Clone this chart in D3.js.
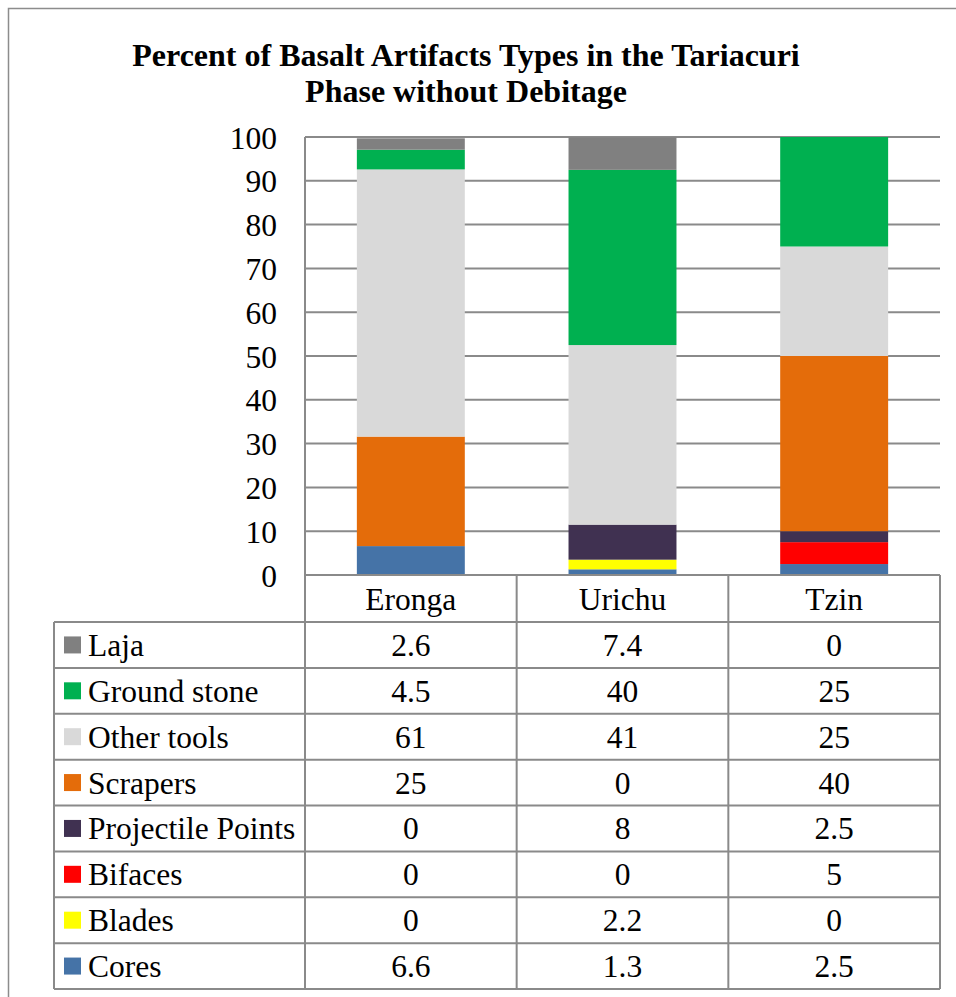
<!DOCTYPE html>
<html>
<head>
<meta charset="utf-8">
<script src="https://cdn.jsdelivr.net/npm/d3@7/dist/d3.min.js"></script>
<style>
  html, body { margin: 0; padding: 0; background: #fff; }
  svg { display: block; }
  text { font-family: "Liberation Serif", "Times New Roman", serif; fill: #000; }
</style>
</head>
<body>
<svg id="chart" width="956" height="997"></svg>
<script>
// Sites shown as columns
const sites = ["Eronga", "Urichu", "Tzin"];

// Artifact types, from the bottom of each stack to the top
const types = ["Cores", "Blades", "Bifaces", "Projectile Points", "Scrapers", "Other tools", "Ground stone", "Laja"];
const colors = ["#4573A7", "#FFFF00", "#FF0000", "#403151", "#E46C0A", "#D9D9D9", "#00B050", "#808080"];

// Percent values per type, in site order (Eronga, Urichu, Tzin)
const cores       = [6.6, 1.3, 2.5];
const blades      = [0, 2.2, 0];
const bifaces     = [0, 0, 5];
const projectiles = [0, 8, 2.5];
const scrapers    = [25, 0, 40];
const otherTools  = [61, 41, 25];
const groundStone = [4.5, 40, 25];
const laja        = [2.6, 7.4, 0];

const yTicks = [0, 10, 20, 30, 40, 50, 60, 70, 80, 90, 100];
const title = ["Percent of Basalt Artifacts Types in the Tariacuri", "Phase without Debitage"];

const seriesValues = [cores, blades, bifaces, projectiles, scrapers, otherTools, groundStone, laja];
const rows = sites.map((s, i) => {
  const r = { site: s };
  types.forEach((t, k) => { r[t] = seriesValues[k][i]; });
  return r;
});

const svg = d3.select("#chart");
const fontSize = 31.5;
const lineColor = "#8a8a8a";

// Layout
const plotLeft = 305, plotRight = 940, plotTop = 137, plotBottom = 575;
const legendLeft = 54;
const headerBottom = 622;
const rowH = 45.875;

const x = d3.scaleBand().domain(sites).range([plotLeft, plotRight]).padding(0);
const y = d3.scaleLinear().domain([0, 100]).range([plotBottom, plotTop]);
const barW = x.bandwidth() * 0.51;

// Frame
svg.append("path")
  .attr("d", `M8.5,997 L8.5,8.5 L956,8.5`)
  .attr("fill", "none").attr("stroke", "#8c8c8c").attr("stroke-width", 1.5);

// Title
svg.append("g").selectAll("text").data(title).join("text")
  .attr("x", 466).attr("y", (d, i) => 66 + i * 36)
  .attr("text-anchor", "middle")
  .attr("font-size", 32).attr("font-weight", "bold")
  .text(d => d);

// Horizontal gridlines
svg.append("g").selectAll("line").data(yTicks.filter(t => t > 0)).join("line")
  .attr("x1", plotLeft).attr("x2", plotRight)
  .attr("y1", d => y(d)).attr("y2", d => y(d))
  .attr("stroke", lineColor).attr("stroke-width", 2);

// Y axis labels
const yAxis = d3.axisLeft(y).tickValues(yTicks).tickSize(0).tickPadding(28);
const yg = svg.append("g").attr("transform", `translate(${plotLeft},0)`).call(yAxis);
yg.select(".domain").remove();
yg.selectAll("text")
  .attr("font-size", fontSize)
  .attr("font-family", "Liberation Serif, Times New Roman, serif")
  .attr("fill", "#000")
  .attr("dy", null).attr("dominant-baseline", null)
  .attr("y", 11);

// Stacked bars
const stack = d3.stack().keys(types)(rows);
svg.append("g").selectAll("g").data(stack).join("g")
  .attr("fill", (d, i) => colors[i])
  .selectAll("rect").data(d => d).join("rect")
  .attr("x", d => x(d.data.site) + x.bandwidth() / 2 - barW / 2)
  .attr("width", barW)
  .attr("y", d => y(d[1]))
  .attr("height", d => y(d[0]) - y(d[1]));

// Data table: one row per type, top to bottom in reverse stack order
const tableTypes = types.slice().reverse();
const tableColors = colors.slice().reverse();
const tableBottom = headerBottom + rowH * tableTypes.length;
const tg = svg.append("g");

// Header row with site names
tg.selectAll("text.hdr").data(sites).join("text").attr("class", "hdr")
  .attr("x", d => x(d) + x.bandwidth() / 2)
  .attr("y", (plotBottom + headerBottom) / 2 + 11)
  .attr("text-anchor", "middle").attr("font-size", fontSize)
  .text(d => d);

// Row labels with colour keys
const rg = tg.selectAll("g.row").data(tableTypes).join("g").attr("class", "row")
  .attr("transform", (d, i) => `translate(0,${headerBottom + i * rowH})`);
rg.append("rect")
  .attr("x", 64).attr("y", rowH / 2 - 8.5).attr("width", 17).attr("height", 17)
  .attr("fill", (d, i) => tableColors[i]);
rg.append("text")
  .attr("x", 88).attr("y", rowH / 2 + 11)
  .attr("font-size", fontSize).text(d => d);
rg.selectAll("text.val").data(t => sites.map(s => ({ site: s, v: rows.find(r => r.site === s)[t] })))
  .join("text").attr("class", "val")
  .attr("x", d => x(d.site) + x.bandwidth() / 2)
  .attr("y", rowH / 2 + 11)
  .attr("text-anchor", "middle").attr("font-size", fontSize)
  .text(d => d.v);

// Table grid
const grid = tg.append("g").attr("stroke", lineColor).attr("stroke-width", 2).attr("fill", "none");
// top of header row
grid.append("line").attr("x1", plotLeft).attr("x2", plotRight).attr("y1", plotBottom).attr("y2", plotBottom);
// row separators
d3.range(tableTypes.length + 1).forEach(i => {
  const yy = headerBottom + i * rowH;
  grid.append("line").attr("x1", legendLeft).attr("x2", plotRight).attr("y1", yy).attr("y2", yy);
});
// vertical lines
grid.append("line").attr("x1", legendLeft).attr("x2", legendLeft).attr("y1", headerBottom).attr("y2", tableBottom);
grid.append("line").attr("x1", plotLeft).attr("x2", plotLeft).attr("y1", plotTop).attr("y2", tableBottom);
sites.forEach((s, i) => {
  const xx = x(s) + x.bandwidth();
  grid.append("line").attr("x1", xx).attr("x2", xx).attr("y1", plotBottom).attr("y2", tableBottom);
});
</script>
</body>
</html>
